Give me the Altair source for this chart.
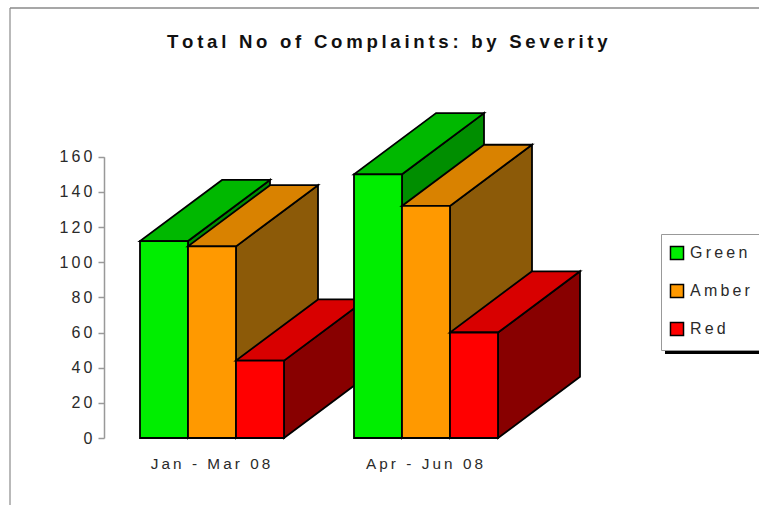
import altair as alt
import pandas as pd

# Complaint counts per quarter and severity
periods = ["Jan - Mar 08", "Apr - Jun 08"]
severities = ["Green", "Amber", "Red"]
green_counts = [112, 150]
amber_counts = [109, 132]
red_counts = [44, 60]
y_ticks = [0, 20, 40, 60, 80, 100, 120, 140, 160]
title_text = "Total No of Complaints: by Severity"

front_colors = ["#00EE00", "#FF9900", "#FF0000"]
top_colors = ["#00B800", "#D98200", "#D80000"]
side_colors = ["#008E00", "#8C5A08", "#880000"]

FONT = "Liberation Sans"
SPACER = "\u2009"
TOP_PAD = 60
PLOT_H = 385
BAR_W = 48
GROUP_LEFT = [140, 354]
DEPTH_X = 82
DEPTH_Y = 34.8  # receding offset, in count units


def spaced(text):
    return SPACER.join(text)


y_scale = alt.Scale(domain=[0, 160], range=[438 - TOP_PAD, 156.7 - TOP_PAD], nice=False, zero=False)
x_scale = alt.Scale(domain=[0, 759], range=[0, 759], nice=False, zero=False)
color_scale = alt.Scale(domain=severities, range=front_colors)

group_centers = [left + 70 for left in GROUP_LEFT]
x_label_expr = f"datum.value < 300 ? '{spaced(periods[0])}' : '{spaced(periods[1])}'"
x_axis = alt.Axis(
    values=group_centers, labelExpr=x_label_expr, title=None, domain=False, ticks=False, grid=False,
    labelFont=FONT, labelFontSize=15.3, labelColor="#2a2a2a", labelPadding=11,
)
y_axis = alt.Axis(
    values=y_ticks, labelExpr=f"join(split(datum.label, ''), '{SPACER}')", title=None, offset=-104,
    grid=False, domainColor="#999999", tickColor="#999999", tickSize=6, domainWidth=1.5, tickWidth=1.5,
    labelFont=FONT, labelFontSize=16, labelColor="#2a2a2a", labelPadding=6,
)

OUTLINE = dict(stroke="black", strokeWidth=1.8, strokeJoin="miter")
layers = []
series = [green_counts, amber_counts, red_counts]

for g, period in enumerate(periods):
    for s, name in enumerate(severities):
        value = series[s][g]
        left = GROUP_LEFT[g] + s * BAR_W
        right = left + BAR_W

        # Right-hand face: a slanted band from the bar's front edge to its back edge
        side = pd.DataFrame({
            "x": [right, right + DEPTH_X],
            "low": [0, DEPTH_Y],
            "high": [value, value + DEPTH_Y],
        })
        layers.append(
            alt.Chart(side).mark_area(color=side_colors[s], **OUTLINE).encode(
                x=alt.X("x:Q", scale=x_scale, axis=x_axis),
                y=alt.Y("low:Q", scale=y_scale, axis=y_axis),
                y2="high:Q",
            )
        )

        # Top face: the bar's width sheared back along the depth direction
        top = pd.DataFrame({
            "level": [value, value + DEPTH_Y],
            "x0": [left, left + DEPTH_X],
            "x1": [right, right + DEPTH_X],
        })
        layers.append(
            alt.Chart(top).mark_area(color=top_colors[s], orient="horizontal", **OUTLINE).encode(
                y=alt.Y("level:Q", scale=y_scale, axis=y_axis),
                x=alt.X("x0:Q", scale=x_scale, axis=x_axis),
                x2="x1:Q",
            )
        )

        # Front face carries the severity colour and the legend
        front = pd.DataFrame({"x0": [left], "x1": [right], "count": [value], "base": [0], "severity": [name]})
        layers.append(
            alt.Chart(front).mark_rect(**OUTLINE).encode(
                x=alt.X("x0:Q", scale=x_scale, axis=x_axis),
                x2="x1:Q",
                y=alt.Y("count:Q", scale=y_scale, axis=y_axis),
                y2="base:Q",
                color=alt.Color(
                    "severity:N", scale=color_scale, sort=severities,
                    legend=alt.Legend(
                        orient="none", legendX=661, legendY=234 - TOP_PAD, title=None,
                        symbolType="square", symbolSize=170, symbolStrokeColor="black", symbolStrokeWidth=1.5,
                        symbolOpacity=1, labelFont=FONT, labelFontSize=16, labelColor="#2a2a2a", labelOffset=5,
                        rowPadding=18, padding=11, symbolOffset=-3, fillColor="white", strokeColor="#999999",
                        labelExpr=f"join(split(datum.label, ''), '{SPACER}')",
                    ),
                ),
            )
        )

# Outer frame and the legend's drop shadow
frame_top = alt.Chart(pd.DataFrame({"k": [0]})).mark_rule(color="#8a8a8a", strokeWidth=1.5).encode(
    x=alt.value(10), x2=alt.value(759), y=alt.value(8 - TOP_PAD))
frame_left = alt.Chart(pd.DataFrame({"k": [0]})).mark_rule(color="#8a8a8a", strokeWidth=1.2).encode(
    x=alt.value(10), y=alt.value(8 - TOP_PAD), y2=alt.value(505 - TOP_PAD))
legend_shadow = alt.Chart(pd.DataFrame({"k": [0]})).mark_rule(color="black", strokeWidth=4).encode(
    x=alt.value(665), x2=alt.value(759), y=alt.value(352 - TOP_PAD))

chart = alt.layer(frame_top, frame_left, *layers, legend_shadow).properties(
    width=759,
    height=PLOT_H,
    padding={"left": 0, "top": TOP_PAD, "right": 0, "bottom": 60},
    autosize=alt.AutoSizeParams(type="none"),
    background="white",
    title=alt.TitleParams(
        spaced(title_text), font=FONT, fontSize=18.6, fontWeight="bold", color="#111111",
        anchor="start", frame="bounds", dx=167, dy=54, offset=10,
    ),
).configure_view(stroke=None)

chart.save("out.html", embed_options={"renderer": "svg", "actions": False})
